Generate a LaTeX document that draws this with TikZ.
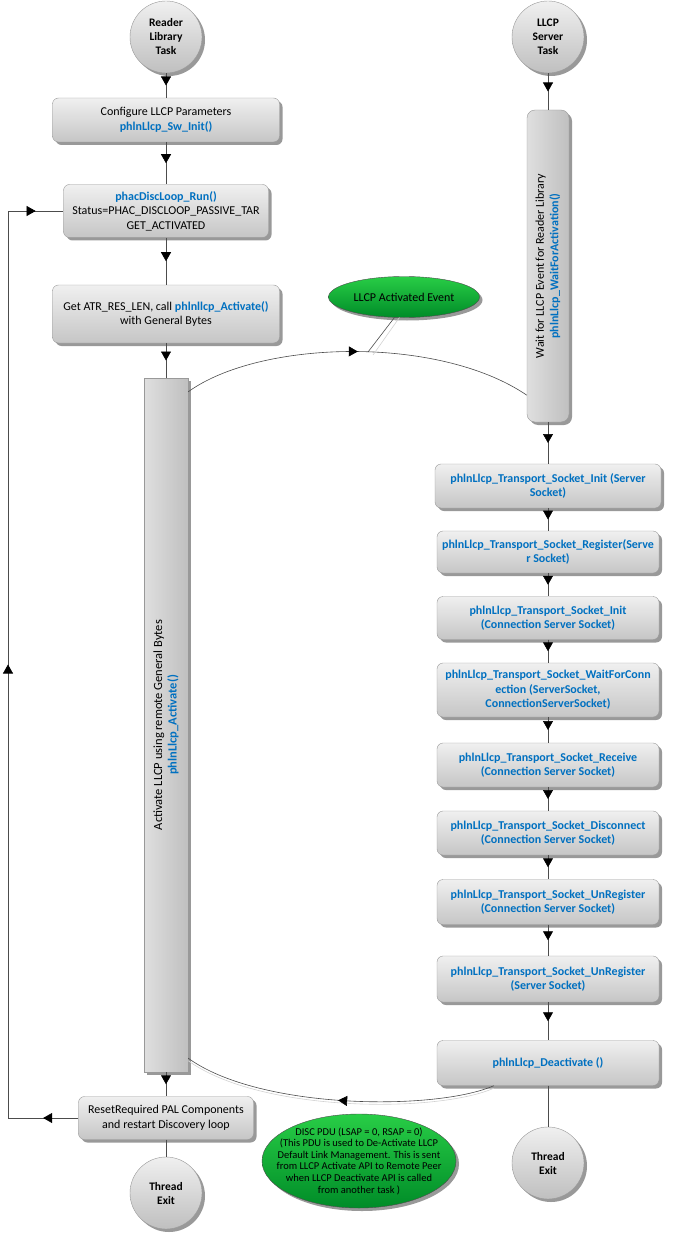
\documentclass[tikz,border=0pt]{standalone}
\usepackage{fontspec}
\setmainfont{Carlito}
\usetikzlibrary{shapes.geometric, shadows, decorations.markings, arrows.meta}

\definecolor{fnblue}{RGB}{0,112,192}
\definecolor{evtop}{RGB}{40,205,70}
\definecolor{evbot}{RGB}{0,140,40}
\newcommand{\fn}[1]{\textcolor{fnblue}{\bfseries #1}}

\begin{document}
\begin{tikzpicture}[x=1pt, y=-1pt,
    font=\fontsize{12}{14.5}\selectfont,
    shade/.style={drop shadow={shadow xshift=3pt, shadow yshift=-3pt, fill=gray!80, opacity=1}},
    task/.style={circle, draw=gray!80, top color=gray!12, bottom color=gray!50, shade,
        minimum size=72pt, inner sep=0pt, align=center, font=\fontsize{11.5}{14}\selectfont\bfseries},
    box/.style={rounded corners=6pt, draw=gray!80, top color=gray!12, bottom color=gray!45, shade,
        align=center, inner sep=2pt},
    sock/.style={box, minimum width=222pt, minimum height=44pt, text=fnblue,
        font=\fontsize{12}{14.5}\selectfont\bfseries},
    bar/.style={draw=gray!80, left color=gray!25, right color=gray!50, shade},
    event/.style={ellipse, draw=gray!60!black, top color=evtop, bottom color=evbot, shade,
        align=center, inner sep=0pt},
    flow/.style={draw=gray!60!black, line width=0.6pt, postaction={decorate},
        decoration={markings, mark=at position 0.5 with {\arrow{Triangle[length=9pt, width=10pt, color=black]}}}},
    link/.style={draw=gray!60!black, line width=0.6pt}]

    \useasboundingbox (0,0) rectangle (672,1241);

    % reader library side
    \node[task] (rlt) at (166,37) {Reader\\Library\\Task};
    \node[box, minimum width=227pt, minimum height=44pt] (cfg) at (166,120) {Configure LLCP Parameters\\\fn{phlnLlcp\_Sw\_Init()}};
    \node[box, minimum width=205pt, minimum height=53pt] (disc) at (166,211) {\fn{phacDiscLoop\_Run()}\\Status=PHAC\_DISCLOOP\_PASSIVE\_TAR\\GET\_ACTIVATED};
    \node[box, minimum width=227pt, minimum height=58pt] (atr) at (166,314) {Get ATR\_RES\_LEN, call \fn{phlnllcp\_Activate()}\\with General Bytes};
    \node[bar, minimum width=44pt, minimum height=694pt] (act) at (166,725) {};
    \node[rotate=90, align=center, font=\fontsize{12.5}{14.5}\selectfont] (actx) at (act.center) {Activate LLCP using remote General Bytes\\\fn{phlnLlcp\_Activate()}};
    \node[box, minimum width=175pt, minimum height=43pt] (rst) at (166,1118) {ResetRequired PAL Components\\and restart Discovery loop};
    \node[task] (tel) at (166,1193) {Thread\\Exit};

    % llcp server side
    \node[task] (lst) at (548,37) {LLCP\\Server\\Task};
    \node[bar, rounded corners=8pt, minimum width=42pt, minimum height=312pt] (wait) at (548,266) {};
    \node[rotate=90, align=center] (waitx) at (wait.center) {Wait for LLCP Event for Reader Library\\\fn{phlnLlcp\_WaitForActivation()}};
    \node[sock, minimum width=226pt] (t1) at (548,486) {phlnLlcp\_Transport\_Socket\_Init (Server\\Socket)};
    \node[sock, minimum height=42pt] (t2) at (548,552) {phlnLlcp\_Transport\_Socket\_Register(Serve\\r Socket)};
    \node[sock, minimum height=43pt] (t3) at (548,618) {phlnLlcp\_Transport\_Socket\_Init\\(Connection Server Socket)};
    \node[sock, minimum height=54pt] (t4) at (548,690) {phlnLlcp\_Transport\_Socket\_WaitForConn\\ection (ServerSocket,\\ConnectionServerSocket)};
    \node[sock] (t5) at (548,765) {phlnLlcp\_Transport\_Socket\_Receive\\(Connection Server Socket)};
    \node[sock] (t6) at (548,833) {phlnLlcp\_Transport\_Socket\_Disconnect\\(Connection Server Socket)};
    \node[sock, minimum height=45pt] (t7) at (548,902) {phlnLlcp\_Transport\_Socket\_UnRegister\\(Connection Server Socket)};
    \node[sock, minimum height=46pt] (t8) at (548,979) {phlnLlcp\_Transport\_Socket\_UnRegister\\(Server Socket)};
    \node[sock, minimum height=45pt] (deact) at (548,1063) {phlnLlcp\_Deactivate ()};
    \node[task] (ter) at (548,1163) {Thread\\Exit};

    % events
    \node[event, minimum width=151pt, minimum height=41pt] (ev1) at (404,297) {LLCP Activated Event};
    \node[event, minimum width=194pt, minimum height=94pt] (ev2) at (359,1161) {};
    \node[align=center, font=\fontsize{10.5}{11.6}\selectfont] (ev2x) at (ev2.center) {DISC PDU (LSAP = 0, RSAP = 0)\\(This PDU is used to De-Activate LLCP\\Default Link Management. This is sent\\from LLCP Activate API to Remote Peer\\when LLCP Deactivate API is called\\from another task )};

    \coordinate (lpb) at (8,1118);
    \coordinate (lpt) at (8,211);
    \coordinate (ev1p) at (368,352);

    \draw[flow] (rlt) -- (cfg);
    \draw[flow] (cfg) -- (disc);
    \draw[flow] (disc) -- (atr);
    \draw[flow] (atr) -- (act);
    \draw[flow] (act) -- (rst);
    \draw[link] (rst) -- (tel);
    \draw[flow] (rst.west) -- (lpb);
    \draw[flow] (lpb) -- (lpt);
    \draw[flow] (lpt) -- (disc.west);

    \draw[flow] (lst) -- (wait);
    \draw[flow] (wait) -- (t1);
    \draw[flow] (t1) -- (t2);
    \draw[flow] (t2) -- (t3);
    \draw[flow] (t3) -- (t4);
    \draw[flow] (t4) -- (t5);
    \draw[flow] (t5) -- (t6);
    \draw[flow] (t6) -- (t7);
    \draw[flow] (t7) -- (t8);
    \draw[flow] (t8) -- (deact);
    \draw[link] (deact) -- (ter);

    % messages between the tasks
    \draw[flow] ([yshift=-14pt]act.north east) .. controls +(72,-52) and +(-88,-60) .. ([yshift=27pt]wait.south west);
    \draw[link] (ev1.245) -- (ev1p);
    \draw[link, gray!35] ([xshift=5pt]ev1.245) -- ([xshift=5pt, yshift=-3pt]ev1p);
    \draw[link, gray!35, transform canvas={yshift=-2.5pt}] ([xshift=57pt]deact.south west) .. controls +(-57,25) and +(72,52) .. ([yshift=14pt]act.south east);
    \draw[flow] ([xshift=57pt]deact.south west) .. controls +(-57,25) and +(72,52) .. ([yshift=14pt]act.south east);
\end{tikzpicture}
\end{document}
